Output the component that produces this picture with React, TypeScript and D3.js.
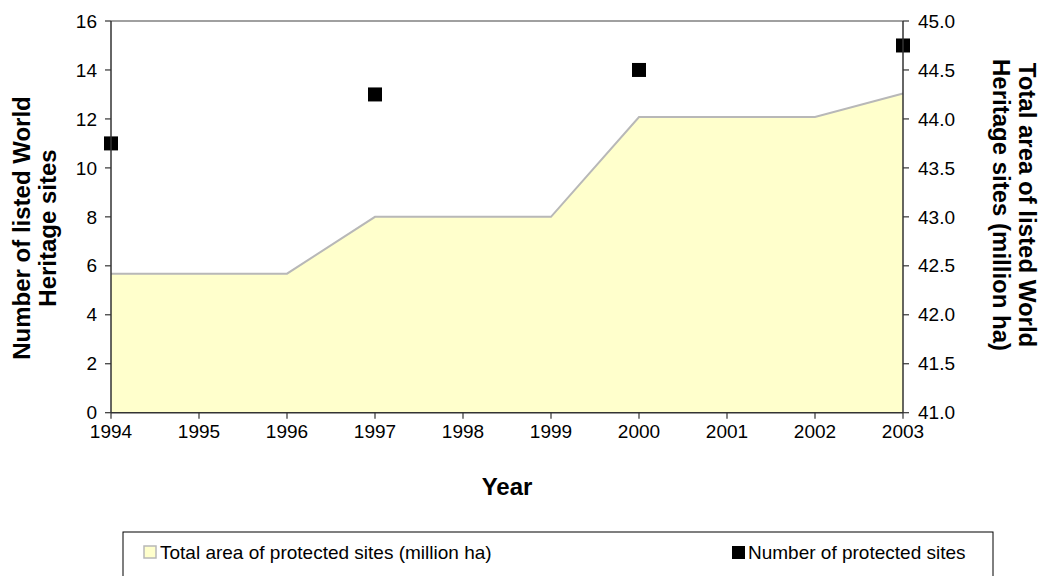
import React from "react";
import * as d3 from "d3";

const years = [1994, 1995, 1996, 1997, 1998, 1999, 2000, 2001, 2002, 2003];
const areaYears = [1994, 1996, 1997, 1999, 2000, 2002, 2003];
const areaValues = [42.42, 42.42, 43.0, 43.0, 44.02, 44.02, 44.26];
const siteYears = [1994, 1997, 2000, 2003];
const siteCounts = [11, 13, 14, 15];
const leftTicks = [0, 2, 4, 6, 8, 10, 12, 14, 16];
const rightTicks = [41.0, 41.5, 42.0, 42.5, 43.0, 43.5, 44.0, 44.5, 45.0];

const W = 1051, H = 576;
const L = 111, R = 903, T = 21, B = 412.7;
const font = "Arial, 'Liberation Sans', sans-serif";

export default function App() {
  const x = d3.scaleLinear().domain([1994, 2003]).range([L, R]);
  const yL = d3.scaleLinear().domain([0, 16]).range([B, T]);
  const yR = d3.scaleLinear().domain([41, 45]).range([B, T]);
  const pts = areaYears.map((yr, i) => [yr, areaValues[i]] as [number, number]);
  const area = d3.area<[number, number]>().x(d => x(d[0])).y0(B).y1(d => yR(d[1]))(pts) || "";
  const line = d3.line<[number, number]>().x(d => x(d[0])).y(d => yR(d[1]))(pts) || "";
  const sq = 14;
  const tf = 19;
  const titleF = 24;
  return (
    <svg width={W} height={H} style={{ position: "absolute", left: 0, top: 0, background: "#fff" }} fontFamily={font}>
      <path d={area} fill="#ffffcc" />
      <path d={line} fill="none" stroke="#b8b8b8" strokeWidth={2} />
      <line x1={L} x2={R} y1={T} y2={T} stroke="#808080" strokeWidth={1.5} />
      {siteYears.map((yr, i) => (
        <rect key={yr} x={x(yr) - sq / 2} y={yL(siteCounts[i]) - sq / 2} width={sq} height={sq} fill="#000" />
      ))}
      {/* left axis */}
      <line x1={L} x2={L} y1={T} y2={B} stroke="#333" strokeWidth={1.5} />
      {leftTicks.map(t => (
        <g key={t}>
          <line x1={L - 6} x2={L} y1={yL(t)} y2={yL(t)} stroke="#333" strokeWidth={1.2} />
          <text x={L - 14} y={yL(t)} dy="0.35em" textAnchor="end" fontSize={tf}>{t}</text>
        </g>
      ))}
      {/* right axis */}
      <line x1={R} x2={R} y1={T} y2={B} stroke="#333" strokeWidth={1.5} />
      {rightTicks.map(t => (
        <g key={t}>
          <line x1={R} x2={R + 6} y1={yR(t)} y2={yR(t)} stroke="#333" strokeWidth={1.2} />
          <text x={R + 15} y={yR(t)} dy="0.35em" textAnchor="start" fontSize={tf}>{t.toFixed(1)}</text>
        </g>
      ))}
      {/* bottom axis */}
      <line x1={L} x2={R} y1={B} y2={B} stroke="#333" strokeWidth={1.5} />
      {years.map(yr => (
        <g key={yr}>
          <line x1={x(yr)} x2={x(yr)} y1={B} y2={B + 6} stroke="#333" strokeWidth={1.2} />
          <text x={x(yr)} y={B + 25} textAnchor="middle" fontSize={tf}>{yr}</text>
        </g>
      ))}
      <text x={(L + R) / 2} y={495} textAnchor="middle" fontSize={titleF} fontWeight="bold">Year</text>
      <g transform={`translate(35, 228) rotate(-90)`}>
        <text x={0} y={-5} textAnchor="middle" fontSize={titleF} fontWeight="bold">Number of listed World</text>
        <text x={0} y={21} textAnchor="middle" fontSize={titleF} fontWeight="bold">Heritage sites</text>
      </g>
      <g transform={`translate(1014, 205) rotate(90)`}>
        <text x={0} y={-5} textAnchor="middle" fontSize={titleF} fontWeight="bold">Total area of listed World</text>
        <text x={0} y={21} textAnchor="middle" fontSize={titleF} fontWeight="bold">Heritage sites (million ha)</text>
      </g>
      {/* legend */}
      <rect x={123} y={532} width={870} height={50} fill="#fff" stroke="#000" strokeWidth={1} />
      <rect x={144} y={546} width={12} height={12} fill="#ffffcc" stroke="#b8b8b8" strokeWidth={1.5} />
      <text x={160} y={559} fontSize={19}>Total area of protected sites (million ha)</text>
      <rect x={732} y={546} width={13} height={13} fill="#000" />
      <text x={748} y={559} fontSize={19}>Number of protected sites</text>
    </svg>
  );
}
